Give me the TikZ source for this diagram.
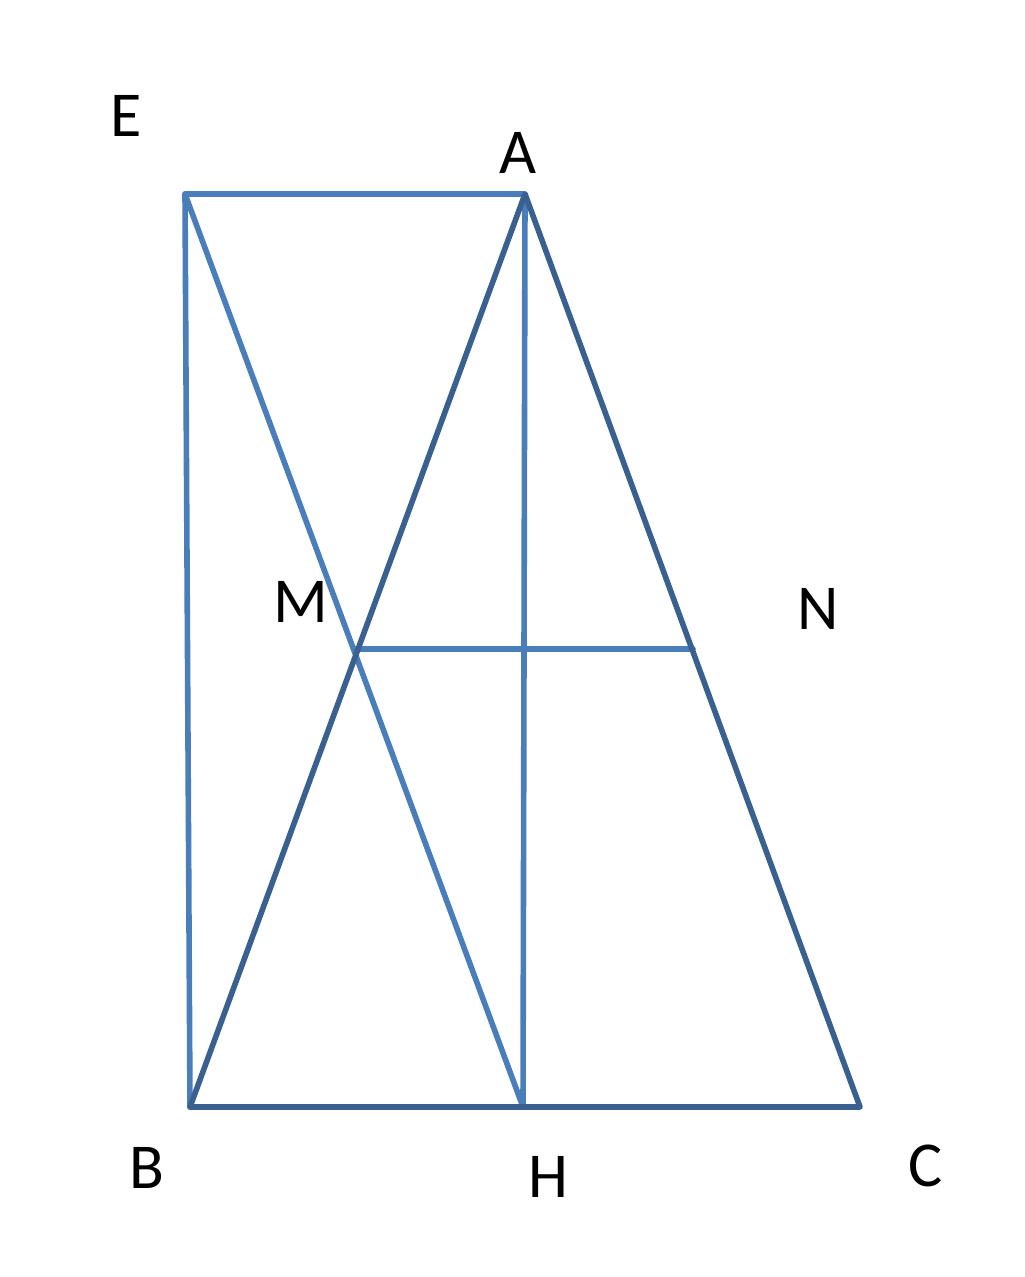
\documentclass[tikz,border=0pt]{standalone}
\usepackage{fontspec}
\setmainfont{Carlito}
\definecolor{lightblue}{HTML}{4A7EBB}
\definecolor{darkblue}{HTML}{3A6090}
\begin{document}
\begin{tikzpicture}[x=0.5pt,y=-0.5pt,
	edge/.style={line width=2.8pt,color=lightblue,line cap=round,line join=round},
	darkedge/.style={edge,color=darkblue},
	lbl/.style={font=\fontsize{32}{38}\selectfont,inner sep=0pt}]
	\useasboundingbox (0,0) rectangle (1024,1277);
	
	\coordinate (E) at (185,194);
	\coordinate (A) at (525,194);
	\coordinate (B) at (190,1107);
	\coordinate (H) at (523,1107);
	\coordinate (C) at (860,1107);
	\coordinate (M) at (355,649);
	\coordinate (N) at (693,649);
	
	\draw[edge] (B) -- (E) -- (A) -- (H);
	\draw[edge] (E) -- (H);
	\draw[edge] (M) -- (N);
	\draw[darkedge] (B) -- (A) -- (C) -- (B);
	
	\node[lbl] (lE) at (126,116){E};
	\node[lbl] (lA) at (518,153){A};
	\node[lbl] (lM) at (301,602){M};
	\node[lbl] (lN) at (818,609){N};
	\node[lbl] (lB) at (147,1168){B};
	\node[lbl] (lH) at (548,1177){H};
	\node[lbl] (lC) at (926,1166){C};
\end{tikzpicture}
\end{document}
